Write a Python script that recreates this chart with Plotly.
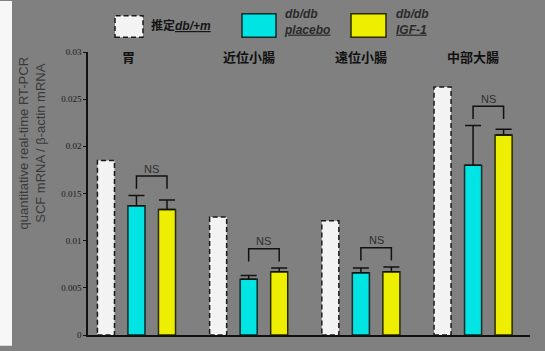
import plotly.graph_objects as go

# ---------------- data ----------------
categories = ['胃', '近位小腸', '遠位小腸', '中部大腸']
est_dbm = [0.0185, 0.0125, 0.0121, 0.0263]          # 推定 db/+m
placebo = [0.0137, 0.0059, 0.0066, 0.0180]          # db/db placebo
placebo_err = [0.0011, 0.0004, 0.0005, 0.0042]
igf1 = [0.0133, 0.0067, 0.0067, 0.0212]             # db/db IGF-1
igf1_err = [0.0010, 0.0004, 0.0005, 0.0006]
y_tickvals = [0, 0.005, 0.01, 0.015, 0.02, 0.025, 0.03]
y_ticktext = ['0', '0.005', '0.01', '0.015', '0.02', '0.025', '0.03']
sig_labels = ['NS', 'NS', 'NS', 'NS']

# ---------------- layout helpers ----------------
W, H = 545, 351
ML, MR, MT, MB = 88, 15, 52, 11
PW, PH = W - ML - MR, H - MT - MB


def px(x):
    return (x - ML) / PW


def py(y):
    return (H - MB - y) / PH


SLOT = 0.272
BW = 0.152
BG = '#808080'
xs = list(range(len(categories)))

fig = go.Figure()

fig.add_trace(go.Bar(
    x=xs, y=est_dbm, width=BW, offset=-SLOT - BW / 2,
    marker=dict(color='#f3f3f3', line=dict(width=0)), showlegend=False))
fig.add_trace(go.Bar(
    x=xs, y=placebo, width=BW, offset=-BW / 2,
    marker=dict(color='#00e4e4', line=dict(color='#102a2a', width=1.5)),
    error_y=dict(type='data', array=placebo_err, arrayminus=[0] * len(xs),
                 symmetric=False, color='#111', thickness=1.5, width=8),
    showlegend=False))
fig.add_trace(go.Bar(
    x=xs, y=igf1, width=BW, offset=SLOT - BW / 2,
    marker=dict(color='#eeee00', line=dict(color='#2a2a00', width=1.5)),
    error_y=dict(type='data', array=igf1_err, arrayminus=[0] * len(xs),
                 symmetric=False, color='#111', thickness=1.5, width=8),
    showlegend=False))

shapes = []
annotations = []

# left white strip
shapes.append(dict(type='rect', xref='paper', yref='paper', layer='below',
                   x0=px(0), x1=px(12), y0=py(H), y1=py(0),
                   fillcolor='#f7f7f7', line=dict(width=0)))

# dashed outlines for estimated bars (derived from data)
for i, v in zip(xs, est_dbm):
    shapes.append(dict(type='rect', xref='x', yref='y',
                       x0=i - SLOT - BW / 2, x1=i - SLOT + BW / 2, y0=0, y1=v,
                       line=dict(color='#1a1a1a', width=1.5, dash='5px,3px'),
                       fillcolor='rgba(0,0,0,0)'))

# NS brackets
GAP, BH, TXT = 0.0007, 0.00135, 0.0008
for i in xs:
    top = max(placebo[i] + placebo_err[i], igf1[i] + igf1_err[i])
    y0 = top + GAP
    y1 = y0 + BH
    shapes.append(dict(type='path', xref='x', yref='y',
                       path=f'M {i},{y0} L {i},{y1} L {i + SLOT},{y1} L {i + SLOT},{y0}',
                       line=dict(color='#111', width=1.5)))
    annotations.append(dict(x=i + SLOT / 2, y=y1 + TXT, xref='x', yref='y',
                            text=sig_labels[i], showarrow=False,
                            xanchor='center', yanchor='middle',
                            font=dict(family='Liberation Sans', size=11, color='#2e2e2e')))

# category labels at top
for i, c in zip(xs, categories):
    annotations.append(dict(x=i - (0.07 if i == 0 else 0), y=py(57), xref='x', yref='paper',
                            text=f'<b>{c}</b>', showarrow=False,
                            xanchor='center', yanchor='middle',
                            font=dict(family='Noto Sans CJK JP', size=13, color='#111')))

# y-axis title
annotations.append(dict(x=px(32), y=py(145), xref='paper', yref='paper',
                        xanchor='center', yanchor='middle',
                        text='quantitative real-time RT-PCR<br>SCF mRNA / β-actin mRNA',
                        textangle=-90, showarrow=False,
                        font=dict(family='Liberation Sans', size=13, color='#3a3a3a')))

# custom legend
shapes.append(dict(type='rect', xref='paper', yref='paper',
                   x0=px(115), x1=px(143), y0=py(37), y1=py(15),
                   fillcolor='#f3f3f3', line=dict(color='#1a1a1a', width=1.5, dash='5px,3px')))
annotations.append(dict(x=px(149), y=py(25), xref='paper', yref='paper',
                        xanchor='left', yanchor='middle',
                        text='<b>推定<i><u>db/+m</u></i></b>', showarrow=False,
                        font=dict(family='Liberation Sans, Noto Sans CJK JP', size=12, color='#151515')))
shapes.append(dict(type='rect', xref='paper', yref='paper',
                   x0=px(242), x1=px(276), y0=py(37), y1=py(13),
                   fillcolor='#00e4e4', line=dict(color='#102a2a', width=1.5)))
annotations.append(dict(x=px(282), y=py(21), xref='paper', yref='paper',
                        xanchor='left', yanchor='middle',
                        text='<b><i>db/db</i></b><br><b><i><u>placebo</u></i></b>', showarrow=False,
                        align='left',
                        font=dict(family='Liberation Sans', size=12, color='#2a2a2a')))
shapes.append(dict(type='rect', xref='paper', yref='paper',
                   x0=px(351), x1=px(386), y0=py(37), y1=py(13),
                   fillcolor='#eeee00', line=dict(color='#2a2a00', width=1.5)))
annotations.append(dict(x=px(394), y=py(21), xref='paper', yref='paper',
                        xanchor='left', yanchor='middle',
                        text='<b><i>db/db</i></b><br><b><i><u>IGF-1</u></i></b>', showarrow=False,
                        align='left',
                        font=dict(family='Liberation Sans', size=12, color='#2a2a2a')))

fig.update_layout(
    width=W, height=H,
    margin=dict(l=ML, r=MR, t=MT, b=MB, pad=0),
    paper_bgcolor=BG, plot_bgcolor=BG,
    barmode='overlay',
    shapes=shapes, annotations=annotations,
    xaxis=dict(range=[-0.432, -0.432 + PW / 112.2], showgrid=False, zeroline=False,
               showticklabels=False, ticks='', showline=True, linecolor='#111', linewidth=1.5),
    yaxis=dict(range=[0, 0.03], tickvals=y_tickvals, ticktext=y_ticktext,
               showgrid=False, zeroline=False, showline=True, linecolor='#111', linewidth=1.5,
               ticks='outside', ticklen=3, tickcolor='#111', tickwidth=1,
               tickfont=dict(family='Liberation Serif', size=9, color='#1a1a1a')),
)

fig.write_html('out.html')
